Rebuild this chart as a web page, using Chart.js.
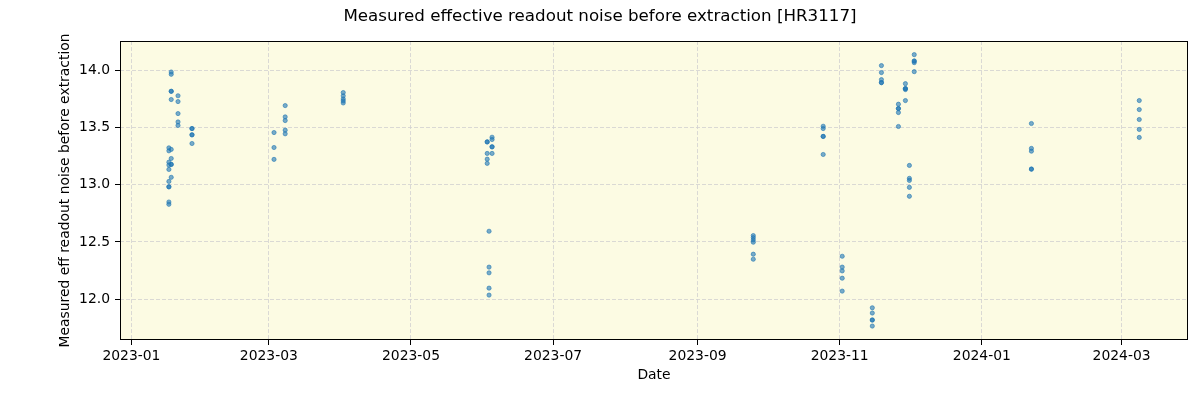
<!DOCTYPE html>
<html>
<head>
<meta charset="utf-8">
<script src="https://cdn.jsdelivr.net/npm/chart.js@4.4.0/dist/chart.umd.min.js"></script>
<style>
  html, body { margin: 0; padding: 0; background: #fff; }
  #wrap { width: 1200px; height: 400px; }
</style>
</head>
<body>
<div id="wrap"><canvas id="chart-noise"></canvas></div>
<script>
// observation nights (UTC) and the noise values measured on each
var obsDates = [
    '2023-01-17T02:00', '2023-01-18T02:00', '2023-01-21T00:00', '2023-01-27T00:00',
    '2023-03-03T05:00', '2023-03-08T00:00', '2023-04-01T22:00',
    '2023-06-02T17:00', '2023-06-03T12:00', '2023-06-04T19:00',
    '2023-09-24T22:00', '2023-10-24T22:00', '2023-11-02T02:00', '2023-11-15T00:00',
    '2023-11-18T22:00', '2023-11-26T05:00', '2023-11-29T05:00', '2023-11-30T22:00',
    '2023-12-03T00:00', '2024-01-22T07:00', '2024-03-08T14:00'
];
var noiseValues = [
    [13.324, 13.298, 13.199, 13.173, 13.135, 13.03, 12.983, 12.983, 12.85, 12.83],
    [13.988, 13.968, 13.819, 13.819, 13.747, 13.31, 13.231, 13.179, 13.179, 13.066],
    [13.78, 13.729, 13.624, 13.551, 13.52],
    [13.493, 13.493, 13.438, 13.438, 13.362],
    [13.458, 13.327, 13.223],
    [13.694, 13.595, 13.563, 13.479, 13.447],
    [13.808, 13.779, 13.752, 13.735, 13.717],
    [13.376, 13.376, 13.275, 13.225, 13.188],
    [12.594, 12.28, 12.23, 12.096, 12.035],
    [13.417, 13.397, 13.333, 13.333, 13.275],
    [12.556, 12.538, 12.518, 12.498, 12.393, 12.349],
    [13.513, 13.493, 13.424, 13.424, 13.266],
    [12.375, 12.28, 12.247, 12.183, 12.07],
    [11.924, 11.878, 11.817, 11.817, 11.764],
    [14.044, 13.983, 13.921, 13.895, 13.895],
    [13.706, 13.668, 13.668, 13.633, 13.511],
    [13.886, 13.843, 13.843, 13.834, 13.738],
    [13.17, 13.057, 13.039, 12.978, 12.9],
    [14.14, 14.084, 14.084, 14.07, 13.991],
    [13.537, 13.319, 13.295, 13.138, 13.138],
    [13.738, 13.659, 13.572, 13.485, 13.415]
];
var xTickLabels = ['2023-01', '2023-03', '2023-05', '2023-07', '2023-09', '2023-11', '2024-01', '2024-03'];
var yTickValues = [12.0, 12.5, 13.0, 13.5, 14.0];

// x axis is "days since 2023-01-01"
var DAY0 = Date.UTC(2023, 0, 1);
function toDays(s) {
    return (Date.parse(s + 'Z') - DAY0) / 86400000;
}

var points = [];
obsDates.forEach(function (d, i) {
    noiseValues[i].forEach(function (v) {
        points.push({ x: toDays(d), y: v });
    });
});
var xTickDays = xTickLabels.map(function (l) { return toDays(l + '-01T00:00'); });

Chart.defaults.font.family = 'DejaVu Sans';
Chart.defaults.color = '#000';

var plotFrame = {
    id: 'plotFrame',
    beforeDraw: function (chart) {
        var a = chart.chartArea, c = chart.ctx;
        c.save();
        c.fillStyle = '#fcfbe3';
        c.fillRect(a.left, a.top, a.right - a.left, a.bottom - a.top);
        c.restore();
    },
    afterDraw: function (chart) {
        var a = chart.chartArea, c = chart.ctx;
        c.save();
        c.strokeStyle = '#000';
        c.lineWidth = 1;
        c.strokeRect(Math.round(a.left) + 0.5, Math.round(a.top) + 0.5,
            Math.round(a.right - a.left) - 1, Math.round(a.bottom - a.top) - 1);
        c.restore();
    }
};

var ctx = document.getElementById('chart-noise').getContext('2d');
var noiseChart = new Chart(ctx, {
    type: 'scatter',
    data: {
        datasets: [{
            label: 'readout noise',
            data: points,
            backgroundColor: 'rgba(31, 119, 180, 0.6)',
            borderColor: 'rgba(31, 119, 180, 0.6)',
            borderWidth: 1,
            pointRadius: 2.1,
            pointHoverRadius: 2.1
        }]
    },
    options: {
        responsive: true,
        maintainAspectRatio: false,
        animation: false,
        events: [],
        layout: {
            padding: { left: 6, right: 6, top: 0, bottom: 0 }
        },
        plugins: {
            legend: { display: false },
            tooltip: { enabled: false },
            title: {
                display: true,
                text: 'Measured effective readout noise before extraction [HR3117]',
                font: { size: 16.7, weight: 'normal' },
                color: '#000',
                padding: { top: 7, bottom: 14 }
            }
        },
        scales: {
            x: {
                type: 'linear',
                min: -4.9,
                max: 453.5,
                afterBuildTicks: function (scale) {
                    scale.ticks = xTickDays.map(function (v) { return { value: v }; });
                },
                afterFit: function (scale) {
                    scale.height = 60;
                    scale.paddingRight = 12;
                },
                ticks: {
                    autoSkip: false,
                    maxRotation: 0,
                    padding: 3,
                    font: { size: 13.9 },
                    callback: function (value) {
                        var i = xTickDays.indexOf(value);
                        return i >= 0 ? xTickLabels[i] : '';
                    }
                },
                grid: {
                    color: '#d0d0d0',
                    lineWidth: 0.8,
                    tickColor: '#000',
                    tickLength: 5,
                    tickWidth: 1,
                    tickBorderDash: []
                },
                border: { display: false, dash: [4, 2] },
                title: {
                    display: true,
                    text: 'Date',
                    font: { size: 13.9 },
                    padding: { top: 0, bottom: 16.7 }
                }
            },
            y: {
                min: 11.642,
                max: 14.259,
                afterBuildTicks: function (scale) {
                    scale.ticks = yTickValues.map(function (v) { return { value: v }; });
                },
                afterFit: function (scale) { scale.width = 114; },
                ticks: {
                    padding: 5,
                    font: { size: 13.9 },
                    callback: function (value) { return value.toFixed(1); }
                },
                grid: {
                    color: '#d0d0d0',
                    lineWidth: 0.8,
                    tickColor: '#000',
                    tickLength: 5,
                    tickWidth: 1,
                    tickBorderDash: []
                },
                border: { display: false, dash: [4, 2] },
                title: {
                    display: true,
                    text: 'Measured eff readout noise before extraction',
                    font: { size: 13.9 },
                    padding: { top: 51, bottom: 0 }
                }
            }
        }
    },
    plugins: [plotFrame]
});
</script>
</body>
</html>
